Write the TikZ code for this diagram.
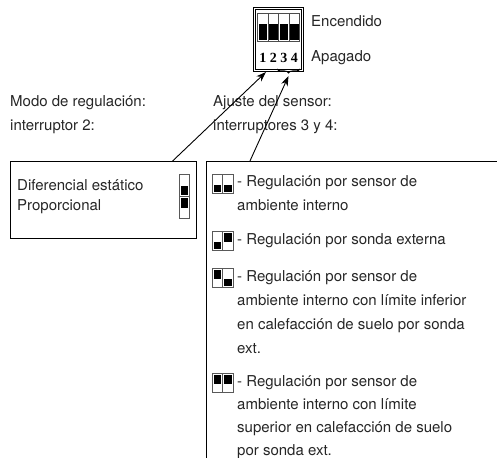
\documentclass[tikz,border=0pt]{standalone}
\usepackage{fontspec}
\setmainfont{TeX Gyre Heros}
\newfontfamily\numfont{Liberation Serif}
\usetikzlibrary{positioning,calc,arrows.meta,decorations.pathreplacing}

\tikzset{
  lbl/.style={anchor=north west, inner sep=0pt, align=left,
    font=\fontsize{15}{24}\selectfont, text=black!85},
  frame/.style={draw, line width=0.9pt},
  pointer/.style={-{Stealth[length=10pt,width=7pt]}, line width=0.9pt},
  numlbl/.style={inner sep=0pt, font=\numfont\bfseries\fontsize{14}{14}\selectfont},
}

% one switch cell: [height] x, y (top left), state (1 = lever up)
\newcommand\swcell[4][19]{%
  \draw[black!65, line width=1pt, fill=white] (#2,#3) rectangle ++(10.5,#1);
  \ifnum#4=1
    \fill (#2+1.5,#3+1.5) rectangle ++(7.5,#1/2-0.5);
  \else
    \fill (#2+1.5,#3+#1/2+1) rectangle ++(7.5,#1/2-2.5);
  \fi
}
% two cells side by side
\newcommand\swpair[4]{\swcell{#1}{#2}{#3}\swcell{#1+10.5}{#2}{#4}}

\begin{document}
\begin{tikzpicture}[x=1pt,y=-1pt]
\useasboundingbox (0,0) rectangle (497,457);
\clip (0,0) rectangle (497,457);

% dip switch
\node (dip)[draw, double, line width=0.8pt, double distance=1pt, anchor=north west,
  minimum width=48pt, minimum height=62pt, inner sep=0pt] at (254,8) {};
\foreach \i in {0,...,3}{
  \draw[black!70, line width=0.6pt] (257.5+\i*10.5,13) rectangle ++(10.5,28);
  \fill (258.5+\i*10.5,24) rectangle ++(8.5,16);
}
\foreach \i/\n in {0/1,1/2,2/3,3/4}
  \node (num\n)[numlbl] at (262.75+\i*10.5,58) {\n};
\node (onlbl)[lbl, anchor=west] at (311,21) {Encendido};
\node (offlbl)[lbl, anchor=west] at (311,58) {Apagado};
\draw[line width=1pt, decorate, decoration={brace, mirror, amplitude=4pt}]
  (277,69) -- (300,69);
\coordinate (sw2) at (266,72);
\coordinate (sw34) at (288.5,76);

% regulation mode
\node (modelbl)[lbl] at (10,95) {Modo de regulación:\\interruptor 2:};
\node (modebox)[frame, anchor=north west, minimum width=186pt, minimum height=77pt] at (10,161) {};
\node (modetxt)[lbl, font=\fontsize{15}{20}\selectfont] at (17,179) {Diferencial estático\\Proporcional};
\swcell[22]{179}{174}{0}
\swcell[22]{179}{196}{1}

% sensor setting
\node (senslbl)[lbl] at (213,95) {Ajuste del sensor:\\interruptores 3 y 4:};
\node (sensbox)[frame, anchor=north west, minimum width=320pt, minimum height=320pt] at (206,161) {};

\swpair{212}{174}{0}{0}
\node (item1)[lbl] at (237,175) {- Regulación por sensor de\\ambiente interno};
\swpair{212}{231}{0}{1}
\node (item2)[lbl] at (237,233) {- Regulación por sonda externa};
\swpair{212}{268}{1}{0}
\node (item3)[lbl] at (237,270) {- Regulación por sensor de\\ambiente interno con límite inferior\\en calefacción de suelo por sonda\\ext.};
\swpair{212}{373}{1}{1}
\node (item4)[lbl, font=\fontsize{15}{23}\selectfont] at (237,375) {- Regulación por sensor de\\ambiente interno con límite\\superior en calefacción de suelo\\por sonda ext.};

% the connections
\draw[pointer] ($(modebox.north west)!0.87!(modebox.north east)$) -- (sw2);
\draw[pointer] ($(sensbox.north west)!0.137!(sensbox.north east)$) -- (sw34);
\end{tikzpicture}
\end{document}
